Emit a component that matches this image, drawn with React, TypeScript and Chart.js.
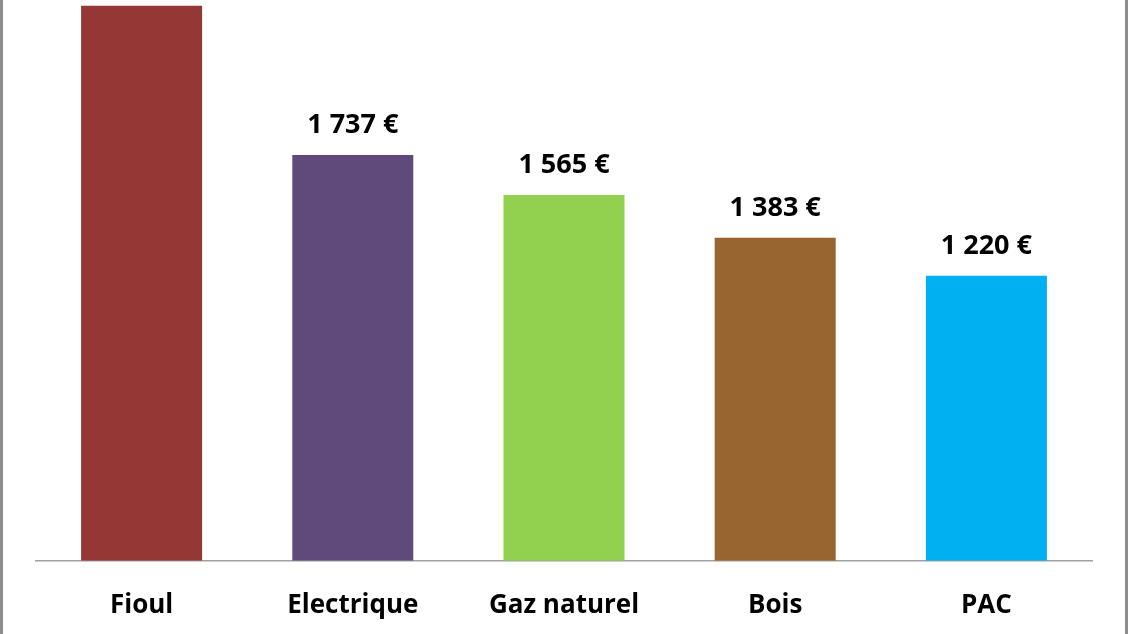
import React, { useEffect, useRef } from "react";
import { Chart, registerables } from "chart.js";

Chart.register(...registerables);

const categories: string[] = ["Fioul", "Electrique", "Gaz naturel", "Bois", "PAC"];
const values: number[] = [2375, 1737, 1565, 1383, 1220];
const barColors: string[] = ["#953735", "#604A7B", "#92D050", "#98642F", "#00B0F0"];
const yMax = 2400;

const fmt = (v: number) => String(v).replace(/\B(?=(\d{3})+(?!\d))/g, " ") + " €";

const FONT = "'Open Sans', 'Noto Sans', sans-serif";

const framePlugin = {
  id: "frame",
  beforeDraw(chart: any) {
    const ctx = chart.ctx;
    ctx.save();
    ctx.fillStyle = "#ffffff";
    ctx.fillRect(0, 0, chart.width, chart.height);
    ctx.fillStyle = "#8c8c8c";
    ctx.fillRect(0, 0, 3, chart.height);
    ctx.fillRect(chart.width - 3, 0, 3, chart.height);
    ctx.restore();
  },
};

const valueLabelPlugin = {
  id: "valueLabels",
  afterDatasetsDraw(chart: any) {
    const ctx = chart.ctx;
    const meta = chart.getDatasetMeta(0);
    ctx.save();
    ctx.font = `bold 27px ${FONT}`;
    ctx.fillStyle = "#000000";
    ctx.textAlign = "center";
    ctx.textBaseline = "alphabetic";
    meta.data.forEach((bar: any, i: number) => {
      ctx.fillText(fmt(values[i]), bar.x, bar.y - 22);
    });
    ctx.restore();
  },
};

export default function App() {
  const ref = useRef<HTMLCanvasElement>(null);

  useEffect(() => {
    if (!ref.current) return;
    const chart = new Chart(ref.current, {
      type: "bar",
      data: {
        labels: categories,
        datasets: [
          {
            data: values,
            backgroundColor: barColors,
            borderWidth: 0,
            barPercentage: 0.573,
            categoryPercentage: 1,
          },
        ],
      },
      options: {
        animation: false,
        responsive: false,
        maintainAspectRatio: false,
        layout: { padding: { left: 36, right: 36, top: 0, bottom: -16 } },
        plugins: {
          legend: { display: false },
          tooltip: { enabled: false },
        },
        scales: {
          x: {
            grid: { display: false, drawTicks: false },
            border: { display: true, color: "#a0a0a0", width: 1.5 },
            ticks: {
              color: "#000000",
              font: { family: FONT, size: 26, weight: "bold" },
              padding: 29,
            },
          },
          y: {
            display: false,
            min: 0,
            max: yMax,
          },
        },
      },
      plugins: [framePlugin, valueLabelPlugin],
    });
    return () => chart.destroy();
  }, []);

  return (
    <div style={{ position: "fixed", left: 0, top: 0, width: 1128, height: 634, background: "#fff" }}>
      <canvas ref={ref} width={1128} height={634} />
    </div>
  );
}
